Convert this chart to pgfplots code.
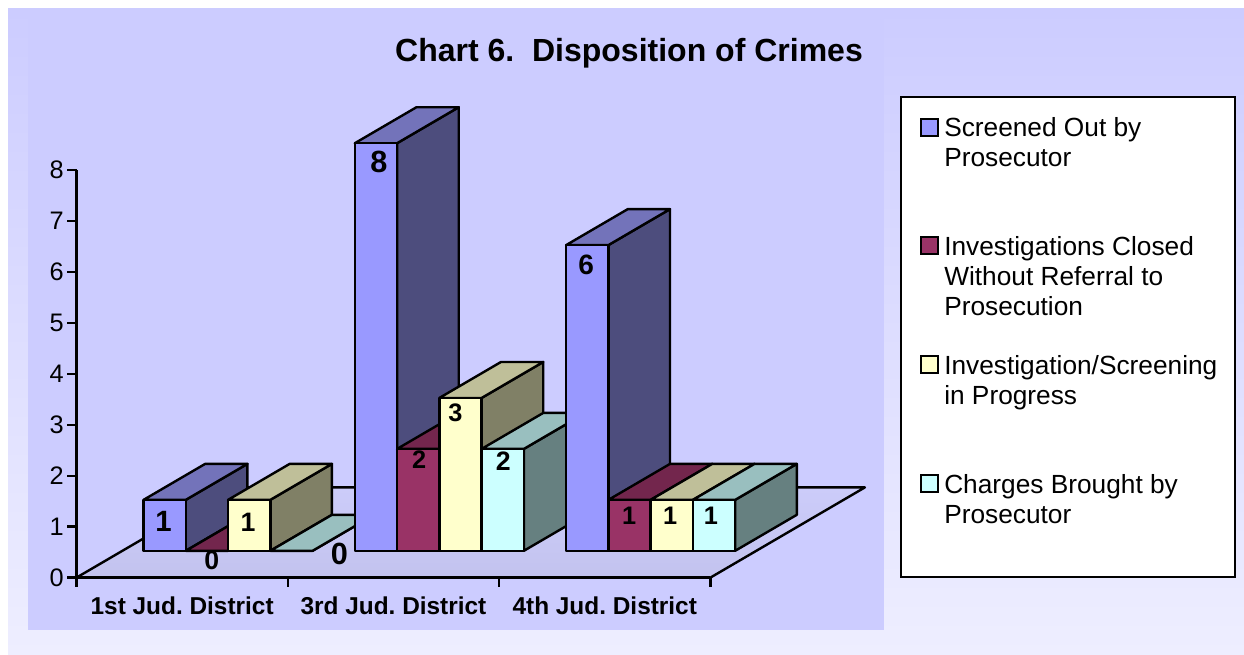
\documentclass[border=0pt]{standalone}
\usepackage{pgfplots}
\pgfplotsset{compat=1.18}
\usepackage{fontspec}
\setmainfont{Liberation Sans}
\frenchspacing

\definecolor{page}{RGB}{238,238,255}
\definecolor{panel}{RGB}{204,204,255}
\definecolor{blueF}{RGB}{153,153,255}
\definecolor{blueT}{RGB}{115,115,186}
\definecolor{blueS}{RGB}{77,77,125}
\definecolor{wineF}{RGB}{153,51,102}
\definecolor{wineT}{RGB}{115,38,77}
\definecolor{wineS}{RGB}{77,26,51}
\definecolor{creamF}{RGB}{255,255,204}
\definecolor{creamT}{RGB}{191,191,153}
\definecolor{creamS}{RGB}{128,128,102}
\definecolor{aquaF}{RGB}{204,255,255}
\definecolor{aquaT}{RGB}{153,191,191}
\definecolor{aquaS}{RGB}{102,128,128}

% One bar: left x, right x, value, colour stem, label shift x/y (px), label size (pt)
\newcommand{\drawbar}[7]{%
  \addplot3[barface,fill=#4S] coordinates {(#2,0.297,0) (#2,0.696,0) (#2,0.696,#3) (#2,0.297,#3)} --cycle;
  \addplot3[barface,fill=#4T] coordinates {(#1,0.297,#3) (#2,0.297,#3) (#2,0.696,#3) (#1,0.696,#3)} --cycle;
  \addplot3[barface,fill=#4F] coordinates {(#1,0.297,0) (#2,0.297,0) (#2,0.297,#3) (#1,0.297,#3)} --cycle;
  \node[font=\fontsize{#7}{#7}\selectfont\bfseries,inner sep=0pt,xshift=#5*0.75pt,yshift=#6*0.75pt]
    at (axis cs:#1,0.297,#3) {#3};
}

\begin{document}
\begin{tikzpicture}
\begin{scope}[x=0.75pt,y=0.75pt]
  \path[use as bounding box,fill=white] (0,0) rectangle (1244,654);
  \shade[top color=panel,bottom color=page] (8,0) rectangle (1244,645);
  \fill[panel] (28,24) rectangle (884,644);
\end{scope}

% Bars and floor, in an oblique 3D frame: x = district, y = depth, z = count
\begin{axis}[
    at={(57.375pt,57.3pt)},anchor=origin,
    x={(158.475pt,0pt)},y={(115.875pt,67.65pt)},z={(0pt,38.2125pt)},
    xmin=0,xmax=3,ymin=0,ymax=1,zmin=0,zmax=8,
    hide axis,clip=false,
    barface/.style={draw=black,line width=1.8pt,line join=round,mark=none,forget plot},
    colormap={floorshade}{rgb255=(195,195,238) rgb255=(204,204,250)},
  ]
  \addplot3[patch,patch type=rectangle,shader=interp,point meta=y,forget plot]
    coordinates {(0,0,0) (3,0,0) (3,1,0) (0,1,0)};
  \addplot3[draw=black,line width=1.8pt,line join=round,mark=none,forget plot]
    coordinates {(0,0,0) (3,0,0) (3,1,0) (0,1,0)} --cycle;

  % 1st Jud. District
  \drawbar{0.1}{0.3}{1}{blue}{20}{-22}{22}
  \drawbar{0.3}{0.5}{0}{wine}{26}{-10}{20}
  \drawbar{0.5}{0.7}{1}{cream}{20}{-22}{20}
  \drawbar{0.7}{0.9}{0}{aqua}{69}{-3.5}{23}
  % 3rd Jud. District
  \drawbar{1.1}{1.3}{8}{blue}{24}{-19}{23}
  \drawbar{1.3}{1.5}{2}{wine}{22}{-11}{19}
  \drawbar{1.5}{1.7}{3}{cream}{16}{-15}{19}
  \drawbar{1.7}{1.9}{2}{aqua}{21.6}{-12}{20}
  % 4th Jud. District
  \drawbar{2.1}{2.3}{6}{blue}{20}{-20}{21}
  \drawbar{2.3}{2.5}{1}{wine}{20.7}{-16}{19}
  \drawbar{2.5}{2.7}{1}{cream}{19.6}{-16}{19}
  \drawbar{2.7}{2.9}{1}{aqua}{18}{-16}{19}
\end{axis}

% Count and district scales
\begin{axis}[
    at={(57.375pt,57.3pt)},anchor=origin,
    x=158.475pt,y=38.2125pt,
    xmin=0,xmax=3,ymin=0,ymax=8,
    axis lines=left,clip=false,
    axis line style={-,line width=1.8pt,black},
    tick style={black,line width=1.8pt},
    tick align=outside,major tick length=7pt,
    ytick={0,1,2,3,4,5,6,7,8},
    xtick={0,1,2,3},xticklabels={,,,},
    extra x ticks={0.5,1.5,2.5},
    extra x tick labels={1st Jud. District,3rd Jud. District,4th Jud. District},
    extra x tick style={major tick length=0pt,
      tick label style={font=\fontsize{18.3}{20}\selectfont\bfseries,yshift=-11pt}},
    /pgf/number format/assume math mode=true,
    yticklabel style={font=\fontsize{19}{20}\selectfont,xshift=1pt},
  ]
\end{axis}

\begin{scope}[x=0.75pt,y=0.75pt]
  \node[font=\fontsize{24}{28}\selectfont\bfseries,inner sep=0pt] at (629,601) {Chart 6.\ \ Disposition of Crimes};

  % Key
  \draw[fill=white,line width=1.8pt] (901,77) rectangle (1235,557);
  \tikzset{keybox/.style={draw=black,line width=1.6pt},
    keytext/.style={anchor=base west,inner sep=0pt,font=\fontsize{19.7}{22.5}\selectfont,align=left}}
  \draw[keybox,fill=blueF]  (921,518) rectangle (938,535);
  \draw[keybox,fill=wineF]  (921,400) rectangle (938,417);
  \draw[keybox,fill=creamF] (921,281) rectangle (938,298);
  \draw[keybox,fill=aquaF]  (921,162) rectangle (938,179);
  \node[keytext] at (944,487) {Screened Out by\\Prosecutor};
  \node[keytext] at (944,339) {Investigations Closed\\Without Referral to\\Prosecution};
  \node[keytext] at (944,250) {Investigation/Screening\\in Progress};
  \node[keytext] at (944,131) {Charges Brought by\\Prosecutor};
\end{scope}
\end{tikzpicture}
\end{document}
